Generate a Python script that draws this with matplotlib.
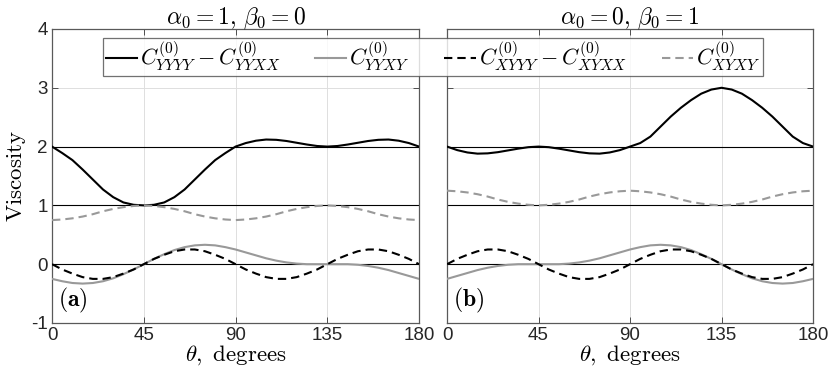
import matplotlib
matplotlib.use('Agg')
from matplotlib import pyplot as plt

plt.rcParams['mathtext.fontset'] = 'cm'
plt.rcParams['font.family'] = ['Liberation Sans', 'DejaVu Sans']
plt.rcParams['axes.unicode_minus'] = False

# angle, degrees (every 5 deg)
theta = list(range(0, 181, 5))

# (a) alpha0 = 1, beta0 = 0
a_yyyy_yyxx = [2.00, 1.89, 1.77, 1.61, 1.44, 1.27, 1.14, 1.05, 1.01, 1.00,
               1.01, 1.05, 1.14, 1.27, 1.44, 1.61, 1.77, 1.89, 2.00,
               2.06, 2.10, 2.12, 2.115, 2.095, 2.065, 2.035, 2.01, 2.00,
               2.01, 2.035, 2.065, 2.095, 2.115, 2.12, 2.10, 2.06, 2.00]
a_yyxy = [-0.25, -0.29, -0.32, -0.33, -0.32, -0.29, -0.24, -0.17, -0.09, 0.00,
          0.09, 0.17, 0.24, 0.29, 0.32, 0.33, 0.32, 0.29, 0.25,
          0.20, 0.15, 0.10, 0.06, 0.03, 0.01, 0.00, 0.00, 0.00,
          0.00, 0.00, -0.01, -0.03, -0.06, -0.10, -0.15, -0.20, -0.25]
a_xyyy_xyxx = [0.00, -0.09, -0.16, -0.22, -0.25, -0.25, -0.22, -0.16, -0.09, 0.00,
               0.09, 0.16, 0.22, 0.25, 0.25, 0.22, 0.16, 0.09, 0.00,
               -0.09, -0.16, -0.22, -0.25, -0.25, -0.22, -0.16, -0.09, 0.00,
               0.09, 0.16, 0.22, 0.25, 0.25, 0.22, 0.16, 0.09, 0.00]
a_xyxy = [0.75, 0.76, 0.78, 0.81, 0.85, 0.90, 0.94, 0.97, 0.99, 1.00,
          0.99, 0.97, 0.94, 0.90, 0.85, 0.81, 0.78, 0.76, 0.75,
          0.76, 0.78, 0.81, 0.85, 0.90, 0.94, 0.97, 0.99, 1.00,
          0.99, 0.97, 0.94, 0.90, 0.85, 0.81, 0.78, 0.76, 0.75]

# (b) alpha0 = 0, beta0 = 1
b_yyyy_yyxx = [2.00, 1.94, 1.90, 1.88, 1.885, 1.905, 1.935, 1.965, 1.99, 2.00,
               1.99, 1.965, 1.935, 1.905, 1.885, 1.88, 1.90, 1.94, 2.00,
               2.06, 2.17, 2.34, 2.51, 2.66, 2.79, 2.90, 2.97, 3.00,
               2.97, 2.90, 2.79, 2.66, 2.51, 2.34, 2.17, 2.06, 2.00]
b_yyxy = [-0.25, -0.20, -0.15, -0.10, -0.06, -0.03, -0.01, 0.00, 0.00, 0.00,
          0.00, 0.00, 0.01, 0.03, 0.06, 0.10, 0.15, 0.20, 0.25,
          0.29, 0.32, 0.33, 0.32, 0.29, 0.24, 0.17, 0.09, 0.00,
          -0.09, -0.17, -0.24, -0.29, -0.32, -0.33, -0.32, -0.29, -0.25]
b_xyyy_xyxx = [0.00, 0.09, 0.16, 0.22, 0.25, 0.25, 0.22, 0.16, 0.09, 0.00,
               -0.09, -0.16, -0.22, -0.25, -0.25, -0.22, -0.16, -0.09, 0.00,
               0.09, 0.16, 0.22, 0.25, 0.25, 0.22, 0.16, 0.09, 0.00,
               -0.09, -0.16, -0.22, -0.25, -0.25, -0.22, -0.16, -0.09, 0.00]
b_xyxy = [1.25, 1.24, 1.22, 1.19, 1.15, 1.10, 1.06, 1.03, 1.01, 1.00,
          1.01, 1.03, 1.06, 1.10, 1.15, 1.19, 1.22, 1.24, 1.25,
          1.24, 1.22, 1.19, 1.15, 1.10, 1.06, 1.03, 1.01, 1.00,
          1.01, 1.03, 1.06, 1.10, 1.15, 1.19, 1.22, 1.24, 1.25]

ref_levels = [0, 1, 2]
xticks = [0, 45, 90, 135, 180]
yticks = [-1, 0, 1, 2, 3, 4]
titles = [r'$\alpha_0 = 1,\, \beta_0 = 0$', r'$\alpha_0 = 0,\, \beta_0 = 1$']
tags = [r'$\mathbf{(a)}$', r'$\mathbf{(b)}$']
labels = [r'$C^{(0)}_{YYYY} - C^{(0)}_{YYXX}$', r'$C^{(0)}_{YYXY}$',
          r'$C^{(0)}_{XYYY} - C^{(0)}_{XYXX}$', r'$C^{(0)}_{XYXY}$']

panels = [(a_yyyy_yyxx, a_yyxy, a_xyyy_xyxx, a_xyxy),
          (b_yyyy_yyxx, b_yyxy, b_xyyy_xyxx, b_xyxy)]

grey = '0.6'
dash = (4, 2.4)

fig = plt.figure(figsize=(8.3, 3.75), dpi=100)
ax1 = fig.add_axes([0.0627, 0.1387, 0.4422, 0.784])
ax2 = fig.add_axes([0.5386, 0.1387, 0.4410, 0.784])

handles = []
for i, ax in enumerate([ax1, ax2]):
    s1, s2, s3, s4 = panels[i]
    ax.grid(True, color='0.87', lw=0.7)
    ax.set_axisbelow(True)
    for lev in ref_levels:
        ax.axhline(lev, color='black', lw=0.8, zorder=2)
    h1, = ax.plot(theta, s1, color='black', lw=1.5, zorder=3)
    h2, = ax.plot(theta, s2, color=grey, lw=1.5, zorder=3)
    h3, = ax.plot(theta, s3, color='black', lw=1.5, dashes=dash, zorder=3)
    h4, = ax.plot(theta, s4, color=grey, lw=1.5, dashes=dash, zorder=3)
    handles = [h1, h2, h3, h4]

    ax.set_xlim(0, 180)
    ax.set_ylim(-1, 4)
    ax.set_xticks(xticks)
    ax.set_yticks(yticks)
    ax.tick_params(direction='in', top=True, right=True, length=4,
                   width=0.7, color='0.3', labelsize=13.5, labelcolor='0.15', pad=3)
    for sp in ax.spines.values():
        sp.set_color('0.35')
        sp.set_linewidth(0.9)
    ax.set_title(titles[i], fontsize=17, pad=4)
    ax.set_xlabel(r'$\theta,\ \mathrm{degrees}$', fontsize=16.5, labelpad=-1)
    ax.text(3, -0.62, tags[i], fontsize=17, va='center', ha='left')

ax1.set_ylabel(r'$\mathrm{Viscosity}$', fontsize=16.5, labelpad=2)
ax2.set_yticklabels([])

leg = fig.legend(handles, labels, loc='center', bbox_to_anchor=(0.5217, 0.8493),
                 ncol=4, fontsize=16, frameon=True, fancybox=False,
                 handlelength=1.4, handletextpad=0.15, columnspacing=1.55,
                 borderpad=0.1, borderaxespad=0)
leg.get_frame().set_edgecolor('0.3')
leg.get_frame().set_linewidth(0.9)
leg.set_zorder(10)

fig.savefig('out.png', dpi=100)
